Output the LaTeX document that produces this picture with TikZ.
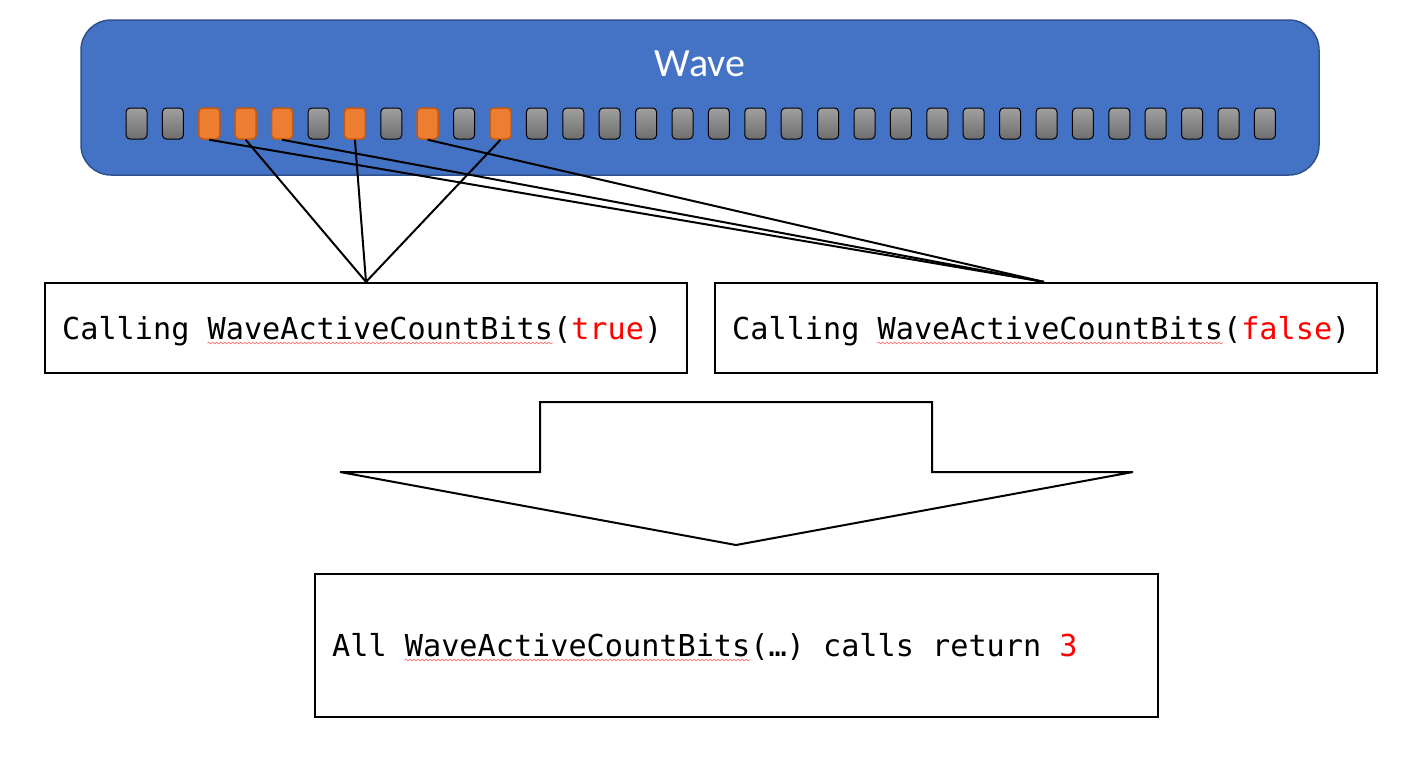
\documentclass[tikz,border=0pt]{standalone}
\usepackage{fontspec}
\setmainfont{Carlito}
\newfontfamily\codefont{DejaVu Sans Mono}
\usetikzlibrary{decorations.pathmorphing}
\definecolor{waveblue}{HTML}{4472C4}
\definecolor{waveedge}{HTML}{2F528F}
\definecolor{lanetop}{HTML}{A0A0A0}
\definecolor{lanebot}{HTML}{6E6E6E}
\definecolor{laneorange}{HTML}{ED7D31}
\definecolor{laneoredge}{HTML}{C55A11}
\definecolor{codered}{HTML}{FF0000}
\tikzset{
  lane/.style={rectangle, rounded corners=4pt, minimum width=21pt, minimum height=31pt, inner sep=0pt, draw=black, line width=1pt, top color=lanetop, bottom color=lanebot},
  activelane/.style={rectangle, rounded corners=4pt, minimum width=21pt, minimum height=31pt, inner sep=0pt, draw=laneoredge, line width=1.5pt, fill=laneorange},
  callbox/.style={rectangle, draw=black, line width=2.2pt, fill=white, inner sep=0pt},
  codetext/.style={anchor=base west, inner sep=0pt, font=\codefont\fontsize{30.2}{36}\selectfont},
  link/.style={draw=black, line width=2pt},
  squiggle/.style={decorate, decoration={snake, amplitude=0.9pt, segment length=4pt}, draw=red!60, line width=0.6pt}
}
\begin{document}
\begin{tikzpicture}[x=1pt,y=-1pt]
\useasboundingbox (0,0) rectangle (1420,756);
% wave
\node[draw=waveedge, line width=1.5pt, fill=waveblue, rounded corners=30pt, minimum width=1238pt, minimum height=155pt, inner sep=0pt] (wave) at (700,97.5) {};
\node[anchor=base, text=white, font=\fontsize{40}{48}\selectfont] (wavelabel) at (700,76) {Wave};
\foreach \i in {0,...,31}{
  \pgfmathsetmacro{\xx}{136.5+36.4*\i}
  \ifnum\i=2 \node[activelane] (l\i) at (\xx,123.5) {};
  \else\ifnum\i=3 \node[activelane] (l\i) at (\xx,123.5) {};
  \else\ifnum\i=4 \node[activelane] (l\i) at (\xx,123.5) {};
  \else\ifnum\i=6 \node[activelane] (l\i) at (\xx,123.5) {};
  \else\ifnum\i=8 \node[activelane] (l\i) at (\xx,123.5) {};
  \else\ifnum\i=10 \node[activelane] (l\i) at (\xx,123.5) {};
  \else \node[lane] (l\i) at (\xx,123.5) {};
  \fi\fi\fi\fi\fi\fi
}
% call boxes
\node[callbox, minimum width=642pt, minimum height=90pt] (tb) at (366,328) {};
\node[callbox, minimum width=662pt, minimum height=90pt] (fb) at (1046,328) {};
\node[codetext] (tt) at (62,339) {Calling WaveActiveCountBits(\textcolor{codered}{true})};
\node[codetext] (ft) at (732,339) {Calling WaveActiveCountBits(\textcolor{codered}{false})};
\draw[squiggle] (207.4,343) -- (553,343);
\draw[squiggle] (877.4,343) -- (1223,343);
% connectors
\draw[link] (l3.south) -- (tb.north);
\draw[link] (l6.south) -- (tb.north);
\draw[link] (l10.south) -- (tb.north);
\draw[link] (l2.south) -- ([xshift=-2pt]fb.north);
\draw[link] (l4.south) -- ([xshift=-2pt]fb.north);
\draw[link] (l8.south) -- ([xshift=-2pt]fb.north);
% block arrow
\draw[line width=2pt, fill=white, line join=miter] (540,402) -- (932,402) -- (932,472) -- (1133,472) -- (736,545) -- (340,472) -- (540,472) -- cycle;
% result box
\node[callbox, minimum width=843pt, minimum height=143pt] (rb) at (736.5,645.5) {};
\node[codetext] (rt) at (332,656) {All WaveActiveCountBits(…) calls return \textcolor{codered}{3}};
\draw[squiggle] (404.7,660) -- (750.2,660);
\end{tikzpicture}
\end{document}
